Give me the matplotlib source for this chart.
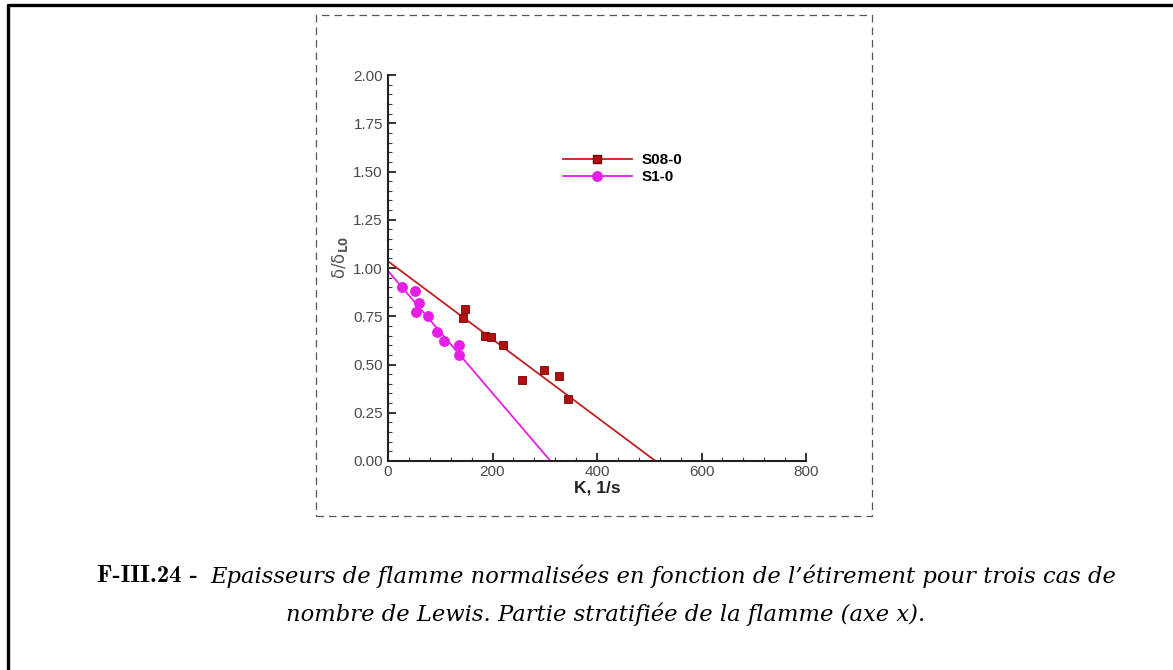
import matplotlib
matplotlib.use("Agg")
import matplotlib.pyplot as plt
from matplotlib.lines import Line2D
from matplotlib.patches import Rectangle
from matplotlib.ticker import MultipleLocator, FormatStrFormatter

# Donnees
k_s08 = [144, 148, 186, 197, 221, 256, 298, 328, 344]
d_s08 = [0.74, 0.79, 0.65, 0.64, 0.60, 0.42, 0.47, 0.44, 0.32]
k_s1 = [27, 51, 53, 60, 76, 94, 108, 136, 136]
d_s1 = [0.90, 0.88, 0.77, 0.82, 0.75, 0.67, 0.62, 0.60, 0.55]

# Droites d'ajustement (extremites)
fit_k_s08 = [0, 512]
fit_d_s08 = [1.035, 0.0]
fit_k_s1 = [0, 311]
fit_d_s1 = [0.985, 0.0]

legende = ["S08-0", "S1-0"]
titre_num = "F-III.24 -"
titre_l1 = "Epaisseurs de flamme normalisées en fonction de l\u2019étirement pour trois cas de"
titre_l2 = "nombre de Lewis. Partie stratifiée de la flamme (axe x)."

W, H = 1173, 670
fig = plt.figure(figsize=(W / 100, H / 100), dpi=100)
fig.patch.set_facecolor("white")

# axes: x 0 -> 388 px, 800 -> 806 px ; y 0 -> 461 px, 2 -> 75 px
ax = fig.add_axes([388 / W, 1 - 461 / H, (806 - 388) / W, (461 - 75) / H])

rouge = "#B01010"
rouge_ligne = "#C02020"
magenta = "#E61EE6"

ax.plot(fit_k_s08, fit_d_s08, color=rouge_ligne, lw=1.3, zorder=2)
ax.plot(fit_k_s1, fit_d_s1, color=magenta, lw=1.3, zorder=2)
ax.plot(k_s08, d_s08, ls="none", marker="s", ms=5.4, color=rouge,
        mec="#7a0000", mew=0.6, zorder=3)
ax.plot(k_s1, d_s1, ls="none", marker="o", ms=6.8, color=magenta,
        mec=magenta, zorder=3)

ax.set_xlim(0, 800)
ax.set_ylim(0, 2)
for s in ["top", "right"]:
    ax.spines[s].set_visible(False)
for s in ["left", "bottom"]:
    ax.spines[s].set_linewidth(1.5)
    ax.spines[s].set_color("#222222")

ax.xaxis.set_major_locator(MultipleLocator(200))
ax.xaxis.set_minor_locator(MultipleLocator(40))
ax.yaxis.set_major_locator(MultipleLocator(0.25))
ax.yaxis.set_minor_locator(MultipleLocator(0.05))
ax.yaxis.set_major_formatter(FormatStrFormatter("%.2f"))
ax.tick_params(which="major", direction="in", length=6, width=1.3,
               labelsize=11, labelcolor="#4a4a4a", color="#222222", pad=3)
ax.tick_params(axis="y", which="major", pad=3.6)
ax.tick_params(which="minor", direction="in", length=3, width=0.8, color="#444444")
for lab in ax.get_xticklabels() + ax.get_yticklabels():
    lab.set_family("Liberation Sans")

ax.set_xlabel("K, 1/s", fontsize=12.5, fontweight="bold", family="Liberation Sans",
              color="#222222", labelpad=1)
ax.set_ylabel(r"$\mathrm{\delta/\delta}_{\mathbf{L0}}$", fontsize=12, color="#555555")
ax.yaxis.set_label_coords(-0.091, 0.528)

leg_handles = [
    Line2D([], [], color=rouge_ligne, lw=1.3, marker="s", ms=5.4, mfc=rouge, mec="#7a0000"),
    Line2D([], [], color=magenta, lw=1.3, marker="o", ms=6.8, mfc=magenta, mec=magenta),
]
fig.legend(leg_handles, legende, loc="upper left",
           bbox_to_anchor=(563 / W, 1 - 153 / H), frameon=False, numpoints=1,
           handlelength=4.5, handletextpad=0.65, labelspacing=0.2, borderpad=0,
           borderaxespad=0,
           prop={"family": "Liberation Sans", "weight": "bold", "size": 11})

# cadre pointille autour du graphique
fig.patches.append(Rectangle((316 / W, 1 - 516 / H), (872 - 316) / W, (516 - 15) / H,
                             transform=fig.transFigure, fill=False, ec="#555555",
                             lw=0.9, ls=(0, (6, 4))))

# bordure noire haut / gauche
fig.add_artist(Line2D([7 / W, 1], [1 - 5 / H, 1 - 5 / H], transform=fig.transFigure,
                      color="black", lw=2.4, solid_capstyle="butt"))
fig.add_artist(Line2D([8 / W, 8 / W], [0, 1 - 4 / H], transform=fig.transFigure,
                      color="black", lw=2.4, solid_capstyle="butt"))

# legende de la figure (taille ajustee a la largeur du texte de reference)
t_num = fig.text(97 / W, 1 - 576 / H, titre_num, ha="left", va="center",
                 family="cmb10", fontsize=16)
t1 = fig.text(210 / W, 1 - 576 / H, titre_l1, ha="left", va="center",
              family="DejaVu Serif", style="italic", fontsize=14)
t2 = fig.text(606 / W, 1 - 614 / H, titre_l2, ha="center", va="center",
              family="DejaVu Serif", style="italic", fontsize=14)

r = fig.canvas.get_renderer()
w_num = t_num.get_window_extent(r).width
t_num.set_fontsize(16 * 101 / w_num)
w1 = t1.get_window_extent(r).width
fs = 14 * 905 / w1
t1.set_fontsize(fs)
t2.set_fontsize(fs)

fig.savefig("out.png", dpi=100, facecolor="white")
